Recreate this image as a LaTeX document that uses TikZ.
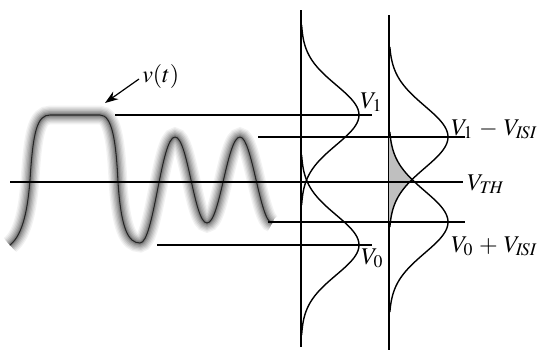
\documentclass[tikz,border=0pt]{standalone}
\usepackage{mathptmx}
\usetikzlibrary{arrows.meta}
\begin{document}
\begin{tikzpicture}[x=0.75pt,y=-0.75pt,
  hline/.style={line width=1.4pt},
  axisline/.style={line width=1.1pt},
  gauss/.style={line width=1.05pt},
  lab/.style={font=\fontsize{18}{21}\selectfont, inner sep=0pt, anchor=base west},
  glow/.style={line cap=round, line join=round,
    preaction={draw=black!5, line width=14pt},
    preaction={draw=black!11, line width=12pt},
    preaction={draw=black!18, line width=10pt},
    preaction={draw=black!26, line width=8pt},
    preaction={draw=black!34, line width=6pt},
    preaction={draw=black!42, line width=4pt},
    preaction={draw=black!50, line width=2.5pt}},
]
\useasboundingbox (0,0) rectangle (543,362);

% waveform with glow
\draw[glow, line width=0.8pt, draw=black!85]
  (10,245) .. controls (24,234) and (28,205) .. (30,180)
  .. controls (33,132) and (37,115) .. (50,115) -- (100,115)
  .. controls (112,115) and (116,140) .. (118,182)
  .. controls (121,228) and (128,243) .. (140,243)
  .. controls (154,243) and (161,137) .. (175,137)
  .. controls (188,137) and (194,223) .. (207,223)
  .. controls (220,223) and (227,137) .. (240,137)
  .. controls (252,137) and (260,222) .. (272,223);

% vertical axes
\coordinate (a1t) at (301,10);  \coordinate (a1b) at (301,347);
\coordinate (a2t) at (389,15);  \coordinate (a2b) at (389,350);
\draw[axisline] (a1t) -- (a1b);
\draw[axisline] (a2t) -- (a2b);

% overlap area
\fill[black!25] (389,137)
  -- plot[variable=\t, domain=137:179.5, samples=30] ({389+59*exp(-(\t-222)*(\t-222)/1922)},\t)
  -- plot[variable=\t, domain=179.5:222, samples=30] ({389+59*exp(-(\t-137)*(\t-137)/1922)},\t)
  -- (389,222) -- cycle;

% gaussians
\draw[gauss] plot[variable=\t, domain=25:205, samples=80, smooth] ({301+58*exp(-(\t-115)*(\t-115)/1800)},\t);
\draw[gauss] plot[variable=\t, domain=155:335, samples=80, smooth] ({301+58*exp(-(\t-245)*(\t-245)/1800)},\t);
\draw[gauss] plot[variable=\t, domain=47:227, samples=80, smooth] ({389+59*exp(-(\t-137)*(\t-137)/1922)},\t);
\draw[gauss] plot[variable=\t, domain=132:312, samples=80, smooth] ({389+59*exp(-(\t-222)*(\t-222)/1922)},\t);

% horizontal levels
\coordinate (h1l) at (115,115); \coordinate (h1r) at (372,115);
\coordinate (h2l) at (258,137); \coordinate (h2r) at (465,137);
\coordinate (h3l) at (10,182);  \coordinate (h3r) at (463,182);
\coordinate (h4l) at (268,222); \coordinate (h4r) at (465,222);
\coordinate (h5l) at (157,245); \coordinate (h5r) at (372,245);
\draw[hline] (h1l) -- (h1r);
\draw[hline] (h2l) -- (h2r);
\draw[hline] (h3l) -- (h3r);
\draw[hline] (h4l) -- (h4r);
\draw[hline] (h5l) -- (h5r);

% labels
\node[lab] (lv1) at (360,108) {$V_1$};
\node[lab] (lv1i) at (451,135) {$V_1 \mskip2mu - \mskip2mu V_{I\!SI}$};
\node[lab] (lvth) at (467,190) {$V_{T\!H}$};
\node[lab] (lv0i) at (451,252) {$V_0 \mskip2mu + \mskip2mu V_{I\!SI}$};
\node[lab] (lv0) at (361,264) {$V_0$};
\node[lab] (lvt) at (142,82) {$v(t)$};

% arrow to waveform
\coordinate (vtail) at (139,79);
\coordinate (vtip) at (105,103);
\draw[line width=0.9pt, -{Stealth[length=10pt,width=7pt]}] (vtail) -- (vtip);
\end{tikzpicture}
\end{document}
